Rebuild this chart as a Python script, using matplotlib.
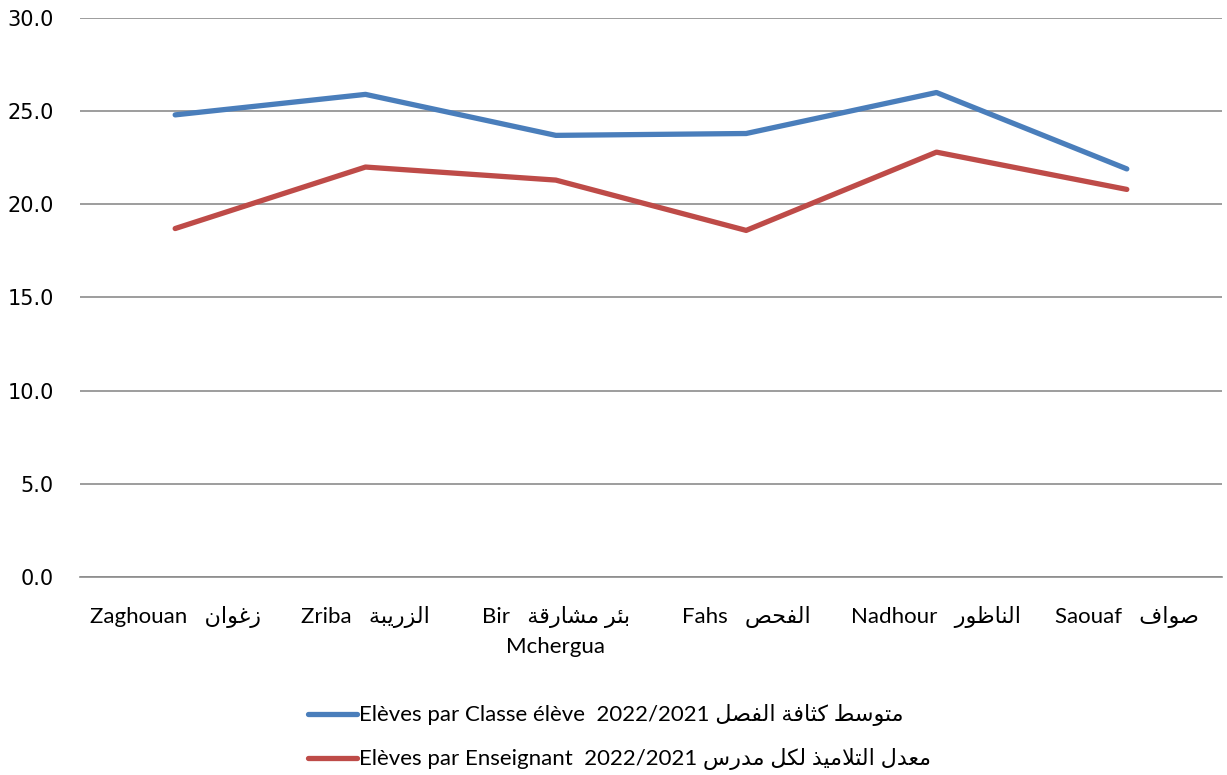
import matplotlib
matplotlib.use("Agg")
import matplotlib.pyplot as plt
from matplotlib.ticker import MultipleLocator, FormatStrFormatter

# ---------------- data ----------------
categories_latin = ["Zaghouan", "Zriba", "Bir", "Fahs", "Nadhour", "Saouaf"]
categories_arabic = ["زغوان", "الزريبة", "بئر مشارقة", "الفحص", "الناظور", "صواف"]
category_second_line = ["", "", "Mchergua", "", "", ""]
eleves_par_classe = [24.8, 25.9, 23.7, 23.8, 26.0, 21.9]
eleves_par_enseignant = [18.7, 22.0, 21.3, 18.6, 22.8, 20.8]
series_latin = ["Elèves par Classe élève", "Elèves par Enseignant"]
series_year = "2022/2021"
series_arabic = ["متوسط كثافة الفصل", "معدل التلاميذ لكل مدرس"]

# ------------- minimal Arabic shaping (presentation forms + RTL) -------------
FORMS = {
    'ا': ('\uFE8D', '\uFE8E', None, None),
    'ب': ('\uFE8F', '\uFE90', '\uFE91', '\uFE92'),
    'ة': ('\uFE93', '\uFE94', None, None),
    'ت': ('\uFE95', '\uFE96', '\uFE97', '\uFE98'),
    'ث': ('\uFE99', '\uFE9A', '\uFE9B', '\uFE9C'),
    'ج': ('\uFE9D', '\uFE9E', '\uFE9F', '\uFEA0'),
    'ح': ('\uFEA1', '\uFEA2', '\uFEA3', '\uFEA4'),
    'خ': ('\uFEA5', '\uFEA6', '\uFEA7', '\uFEA8'),
    'د': ('\uFEA9', '\uFEAA', None, None),
    'ذ': ('\uFEAB', '\uFEAC', None, None),
    'ر': ('\uFEAD', '\uFEAE', None, None),
    'ز': ('\uFEAF', '\uFEB0', None, None),
    'س': ('\uFEB1', '\uFEB2', '\uFEB3', '\uFEB4'),
    'ش': ('\uFEB5', '\uFEB6', '\uFEB7', '\uFEB8'),
    'ص': ('\uFEB9', '\uFEBA', '\uFEBB', '\uFEBC'),
    'ض': ('\uFEBD', '\uFEBE', '\uFEBF', '\uFEC0'),
    'ط': ('\uFEC1', '\uFEC2', '\uFEC3', '\uFEC4'),
    'ظ': ('\uFEC5', '\uFEC6', '\uFEC7', '\uFEC8'),
    'ع': ('\uFEC9', '\uFECA', '\uFECB', '\uFECC'),
    'غ': ('\uFECD', '\uFECE', '\uFECF', '\uFED0'),
    'ف': ('\uFED1', '\uFED2', '\uFED3', '\uFED4'),
    'ق': ('\uFED5', '\uFED6', '\uFED7', '\uFED8'),
    'ك': ('\uFED9', '\uFEDA', '\uFEDB', '\uFEDC'),
    'ل': ('\uFEDD', '\uFEDE', '\uFEDF', '\uFEE0'),
    'م': ('\uFEE1', '\uFEE2', '\uFEE3', '\uFEE4'),
    'ن': ('\uFEE5', '\uFEE6', '\uFEE7', '\uFEE8'),
    'ه': ('\uFEE9', '\uFEEA', '\uFEEB', '\uFEEC'),
    'و': ('\uFEED', '\uFEEE', None, None),
    'ي': ('\uFEF1', '\uFEF2', '\uFEF3', '\uFEF4'),
    'ئ': ('\uFE89', '\uFE8A', '\uFE8B', '\uFE8C'),
    'لا': ('\uFEFB', '\uFEFC', None, None),
}


def shape(text):
    units = []
    i = 0
    while i < len(text):
        if text[i] == 'ل' and i + 1 < len(text) and text[i + 1] == 'ا':
            units.append('لا')
            i += 2
        else:
            units.append(text[i])
            i += 1
    out = []
    for k, u in enumerate(units):
        if u not in FORMS:
            out.append(u)
            continue
        prev = units[k - 1] if k > 0 else None
        nxt = units[k + 1] if k + 1 < len(units) else None
        join_prev = prev in FORMS and FORMS[prev][2] is not None
        join_next = nxt in FORMS and FORMS[u][2] is not None
        iso, fin, ini, med = FORMS[u]
        if join_prev and join_next:
            out.append(med)
        elif join_prev:
            out.append(fin)
        elif join_next:
            out.append(ini)
        else:
            out.append(iso)
    return ''.join(reversed(out))


FAM = ['Lato', 'DejaVu Sans']
plt.rcParams['font.family'] = FAM

fig = plt.figure(figsize=(12.27, 7.75), dpi=100)
ax = fig.add_axes([0.0652, 0.2555, 0.9307, 0.7213])

x = list(range(len(categories_latin)))
blue = '#4A7EBB'
red = '#BE4B48'
l1, = ax.plot(x, eleves_par_classe, color=blue, lw=3.8, solid_capstyle='round',
              solid_joinstyle='round', zorder=3)
l2, = ax.plot(x, eleves_par_enseignant, color=red, lw=3.8, solid_capstyle='round',
              solid_joinstyle='round', zorder=3)

ax.set_xlim(-0.5, len(categories_latin) - 0.5)
ax.set_ylim(0, 30)
ax.yaxis.set_major_locator(MultipleLocator(5))
ax.yaxis.set_major_formatter(FormatStrFormatter('%.1f'))
ax.grid(axis='y', color='#8C8C8C', lw=1.2)
ax.set_axisbelow(True)
for s in ['left', 'right', 'top']:
    ax.spines[s].set_visible(False)
ax.spines['bottom'].set_color('#8C8C8C')
ax.spines['bottom'].set_linewidth(1.2)
ax.tick_params(axis='y', length=0, pad=19, labelsize=15)
ax.tick_params(axis='x', length=0, pad=21)
for t in ax.get_yticklabels():
    t.set_fontfamily(['DejaVu Sans'])

labels = []
for lat, ar, sec in zip(categories_latin, categories_arabic, category_second_line):
    lab = lat + '   ' + shape(ar)
    if sec:
        lab += '\n' + sec
    labels.append(lab)
ax.set_xticks(x)
ax.set_xticklabels(labels, fontsize=16, linespacing=1.55)

leg_labels = [lat + '  ' + series_year + ' ' + shape(ar)
              for lat, ar in zip(series_latin, series_arabic)]
fig.legend([l1, l2], leg_labels, loc='lower center', bbox_to_anchor=(0.505, -0.02),
           ncol=1, frameon=False, fontsize=16, handlelength=2.2, handletextpad=0.1,
           labelspacing=1.0)

fig.savefig('out.png', dpi=100)
